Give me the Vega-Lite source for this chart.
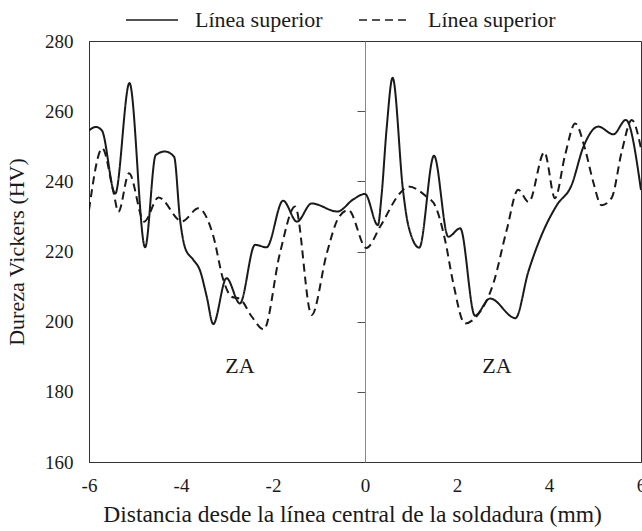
{
  "$schema": "https://vega.github.io/schema/vega-lite/v6.json",
  "width": 552,
  "height": 421,
  "autosize": {"type": "none"},
  "padding": {"left": 89, "top": 41, "right": 1, "bottom": 69},
  "background": "white",
  "config": {
    "font": "Liberation Serif",
    "view": {"stroke": "#333333", "strokeWidth": 1},
    "axis": {"grid": false, "labelFont": "Liberation Serif", "titleFont": "Liberation Serif", "labelColor": "#1a1a1a", "titleColor": "#1a1a1a", "titleFontWeight": "normal", "domainColor": "#333333"}
  },
  "datasets": {
    "curves": [
      {"x": -6.0, "v": 254.5, "s": "A"},
      {"x": -5.85, "v": 255.5, "s": "A"},
      {"x": -5.72, "v": 254.5, "s": "A"},
      {"x": -5.43, "v": 236.5, "s": "A"},
      {"x": -5.12, "v": 268, "s": "A"},
      {"x": -4.78, "v": 221.2, "s": "A"},
      {"x": -4.55, "v": 247.5, "s": "A"},
      {"x": -4.35, "v": 248.5, "s": "A"},
      {"x": -4.15, "v": 247, "s": "A"},
      {"x": -4.02, "v": 229, "s": "A"},
      {"x": -3.91, "v": 221, "s": "A"},
      {"x": -3.73, "v": 217.6, "s": "A"},
      {"x": -3.59, "v": 214.7, "s": "A"},
      {"x": -3.44, "v": 207.1, "s": "A"},
      {"x": -3.3, "v": 199.3, "s": "A"},
      {"x": -3.01, "v": 212.4, "s": "A"},
      {"x": -2.72, "v": 205.2, "s": "A"},
      {"x": -2.39, "v": 221.9, "s": "A"},
      {"x": -2.14, "v": 221.2, "s": "A"},
      {"x": -1.78, "v": 234.5, "s": "A"},
      {"x": -1.48, "v": 228.5, "s": "A"},
      {"x": -1.16, "v": 233.7, "s": "A"},
      {"x": -0.6, "v": 231.4, "s": "A"},
      {"x": -0.25, "v": 234.9, "s": "A"},
      {"x": 0.0, "v": 236.4, "s": "A"},
      {"x": 0.28, "v": 227.5, "s": "A"},
      {"x": 0.36, "v": 236, "s": "A"},
      {"x": 0.47, "v": 255, "s": "A"},
      {"x": 0.6, "v": 269.5, "s": "A"},
      {"x": 0.83, "v": 237, "s": "A"},
      {"x": 0.94, "v": 227.5, "s": "A"},
      {"x": 1.18, "v": 221.1, "s": "A"},
      {"x": 1.5, "v": 247.3, "s": "A"},
      {"x": 1.81, "v": 224.2, "s": "A"},
      {"x": 2.07, "v": 226.6, "s": "A"},
      {"x": 2.39, "v": 201.7, "s": "A"},
      {"x": 2.72, "v": 206.6, "s": "A"},
      {"x": 3.27, "v": 201.0, "s": "A"},
      {"x": 3.55, "v": 214.2, "s": "A"},
      {"x": 3.84, "v": 224.7, "s": "A"},
      {"x": 4.17, "v": 233.2, "s": "A"},
      {"x": 4.49, "v": 238.9, "s": "A"},
      {"x": 4.75, "v": 249.9, "s": "A"},
      {"x": 5.07, "v": 255.6, "s": "A"},
      {"x": 5.4, "v": 253.4, "s": "A"},
      {"x": 5.67, "v": 257.5, "s": "A"},
      {"x": 6.0, "v": 237.5, "s": "A"},
      {"x": -6.0, "v": 231.8, "s": "B"},
      {"x": -5.71, "v": 249.4, "s": "B"},
      {"x": -5.47, "v": 237, "s": "B"},
      {"x": -5.36, "v": 231.3, "s": "B"},
      {"x": -5.13, "v": 242.3, "s": "B"},
      {"x": -4.8, "v": 228.5, "s": "B"},
      {"x": -4.49, "v": 235.4, "s": "B"},
      {"x": -3.98, "v": 228.6, "s": "B"},
      {"x": -3.62, "v": 232.3, "s": "B"},
      {"x": -3.3, "v": 224.5, "s": "B"},
      {"x": -3.08, "v": 211.9, "s": "B"},
      {"x": -2.9, "v": 207.1, "s": "B"},
      {"x": -2.72, "v": 206.5, "s": "B"},
      {"x": -2.46, "v": 201.4, "s": "B"},
      {"x": -2.2, "v": 197.8, "s": "B"},
      {"x": -1.85, "v": 219.5, "s": "B"},
      {"x": -1.52, "v": 232.8, "s": "B"},
      {"x": -1.16, "v": 201.9, "s": "B"},
      {"x": -0.83, "v": 219.5, "s": "B"},
      {"x": -0.58, "v": 229.5, "s": "B"},
      {"x": -0.36, "v": 231.8, "s": "B"},
      {"x": 0.03, "v": 221, "s": "B"},
      {"x": 0.33, "v": 227.1, "s": "B"},
      {"x": 0.76, "v": 236.6, "s": "B"},
      {"x": 0.94, "v": 238.5, "s": "B"},
      {"x": 1.34, "v": 235.6, "s": "B"},
      {"x": 1.52, "v": 233.2, "s": "B"},
      {"x": 1.74, "v": 223.3, "s": "B"},
      {"x": 1.92, "v": 210.9, "s": "B"},
      {"x": 2.17, "v": 199.5, "s": "B"},
      {"x": 2.43, "v": 201.6, "s": "B"},
      {"x": 2.79, "v": 210.9, "s": "B"},
      {"x": 3.08, "v": 226.1, "s": "B"},
      {"x": 3.33, "v": 237.6, "s": "B"},
      {"x": 3.56, "v": 234.1, "s": "B"},
      {"x": 3.9, "v": 248.3, "s": "B"},
      {"x": 4.13, "v": 235.2, "s": "B"},
      {"x": 4.35, "v": 247.5, "s": "B"},
      {"x": 4.57, "v": 256.5, "s": "B"},
      {"x": 4.78, "v": 249.4, "s": "B"},
      {"x": 4.96, "v": 239.9, "s": "B"},
      {"x": 5.14, "v": 233.2, "s": "B"},
      {"x": 5.36, "v": 235.2, "s": "B"},
      {"x": 5.58, "v": 248.4, "s": "B"},
      {"x": 5.8, "v": 257.5, "s": "B"},
      {"x": 6.0, "v": 249.4, "s": "B"}
    ],
    "labels": [
      {"x": -2.72, "v": 187.5, "t": "ZA"},
      {"x": 2.87, "v": 187.5, "t": "ZA"}
    ]
  },
  "layer": [
    {
      "data": {"name": "curves"},
      "mark": {"type": "line", "interpolate": "monotone", "strokeWidth": 2, "color": "#1a1a1a", "clip": true},
      "encoding": {
        "x": {"field": "x", "type": "quantitative", "scale": {"domain": [-6, 6], "nice": false},
          "axis": {"values": [-6, -4, -2, 0, 2, 4, 6], "labelExpr": "toString(datum.value)", "labelFlush": false, "ticks": false, "labelFontSize": 19, "labelPadding": 14, "title": "Distancia desde la línea central de la soldadura (mm)", "titleFontSize": 23.5, "titlePadding": 7, "titleX": 263, "domainColor": "#333333"}},
        "y": {"field": "v", "type": "quantitative", "scale": {"domain": [160, 280], "nice": false},
          "axis": {"values": [160, 180, 200, 220, 240, 260, 280], "ticks": false, "labelFontSize": 19, "labelPadding": 16, "title": "Dureza Vickers (HV)", "titleFontSize": 22, "titlePadding": 16}},
        "strokeDash": {"field": "s", "type": "nominal",
          "scale": {"domain": ["A", "B"], "range": [[1, 0], [8, 5]]},
          "legend": {"orient": "none", "legendX": 36, "legendY": -48, "direction": "horizontal", "title": null,
            "labelExpr": "'Línea superior'", "labelFont": "Liberation Serif", "labelFontSize": 22, "labelColor": "#1a1a1a",
            "symbolType": "stroke", "symbolSize": 2700, "symbolStrokeWidth": 1.5, "symbolStrokeColor": "#1a1a1a",
            "labelOffset": 16, "columnPadding": 33}}
      }
    },
    {
      "data": {"name": "labels"},
      "mark": {"type": "text", "fontSize": 22, "font": "Liberation Serif", "color": "#1a1a1a"},
      "encoding": {
        "x": {"field": "x", "type": "quantitative"},
        "y": {"field": "v", "type": "quantitative",
          "axis": {"orient": "left", "offset": -276, "labels": false, "title": null, "ticks": true, "tickSize": 8, "tickWidth": 1, "tickColor": "#555555", "domainColor": "#888888", "values": [180, 200, 220, 240, 260]}},
        "text": {"field": "t"}
      }
    }
  ],
  "resolve": {"axis": {"y": "independent"}}
}
